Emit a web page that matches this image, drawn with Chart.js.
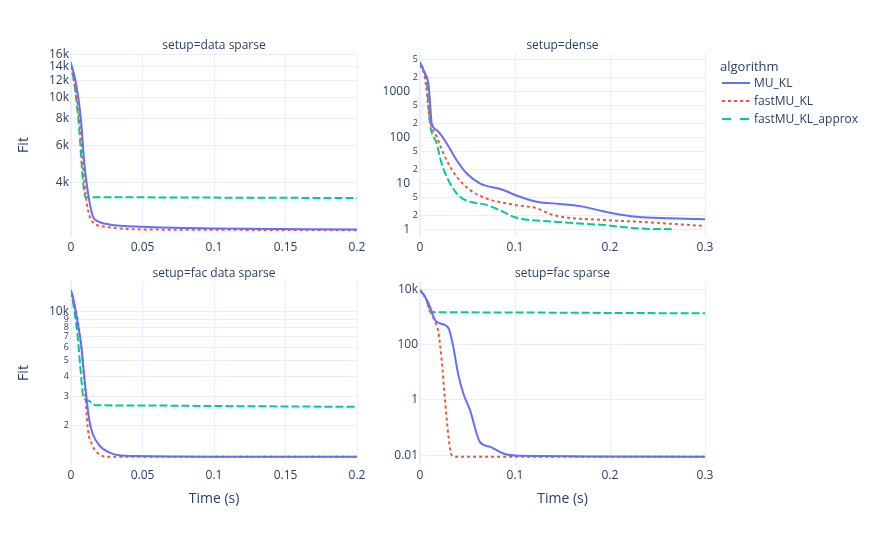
<!DOCTYPE html>
<html>
<head>
<meta charset="utf-8">
<script src="https://cdn.jsdelivr.net/npm/chart.js@4.4.0/dist/chart.umd.min.js"></script>
<style>
    body {
        margin: 0;
        width: 872px;
        height: 538px;
        position: relative;
        overflow: hidden;
        background: #fff;
        font-family: 'Open Sans', sans-serif;
        color: #2a3f5f;
    }
    canvas { position: absolute; }
    .leg-title { position: absolute; left: 720px; top: 56px; font-size: 13px; line-height: 20px; }
    .leg-row { position: absolute; left: 720px; height: 18px; font-size: 12px; line-height: 18px; white-space: nowrap; }
    .leg-row svg { position: absolute; left: 2px; top: 0; }
    .leg-row span { position: absolute; left: 34px; top: 0; }
</style>
</head>
<body>

<canvas id="c1" width="380" height="230" style="left:0px;top:30px"></canvas>
<canvas id="c2" width="345" height="230" style="left:383px;top:30px"></canvas>
<canvas id="c3" width="380" height="257" style="left:0px;top:258px"></canvas>
<canvas id="c4" width="345" height="257" style="left:383px;top:258px"></canvas>

<div class="leg-title">algorithm</div>
<div class="leg-row" style="top:74px"><svg width="30" height="18"><line x1="0" y1="9" x2="28" y2="9" stroke="#636efa" stroke-width="2"/></svg><span>MU_KL</span></div>
<div class="leg-row" style="top:92px"><svg width="30" height="18"><line x1="0" y1="9" x2="28" y2="9" stroke="#EF553B" stroke-width="2" stroke-dasharray="3,3"/></svg><span>fastMU_KL</span></div>
<div class="leg-row" style="top:110px"><svg width="30" height="18"><line x1="0" y1="9" x2="28" y2="9" stroke="#00cc96" stroke-width="2" stroke-dasharray="9,9"/></svg><span>fastMU_KL_approx</span></div>

<script>
// ---- data: setup=data sparse ----
const tDataSparseMU = [0, 0.0007, 0.0047, 0.007, 0.0093, 0.0116, 0.015, 0.0198, 0.0267, 0.05, 0.1, 0.2];
const fDataSparseMU = [14200, 13960, 10470, 7870, 4950, 3700, 2830, 2630, 2560, 2495, 2450, 2420];
const tDataSparseFast = [0, 0.003, 0.0058, 0.0093, 0.011, 0.015, 0.0244, 0.043, 0.1, 0.2];
const fDataSparseFast = [14000, 11200, 8150, 4120, 3220, 2630, 2495, 2430, 2415, 2405];
const tDataSparseApprox = [0, 0.0035, 0.0058, 0.0081, 0.01, 0.012, 0.05, 0.1, 0.2];
const fDataSparseApprox = [14700, 10100, 7060, 4280, 3440, 3430, 3425, 3415, 3400];

// ---- data: setup=dense ----
const tDenseMU = [0, 0.0053, 0.0088, 0.0105, 0.0123, 0.0175, 0.028, 0.0386, 0.049, 0.063, 0.0877, 0.1, 0.123, 0.147, 0.168, 0.2, 0.228, 0.263, 0.3];
const fDenseMU = [4140, 2500, 1510, 600, 204, 146, 75, 32, 16.6, 10, 7.2, 5.6, 4.0, 3.56, 3.2, 2.3, 1.88, 1.74, 1.65];
const tDenseFast = [0, 0.0053, 0.0105, 0.0175, 0.028, 0.0386, 0.0526, 0.07, 0.1, 0.123, 0.14, 0.193, 0.228, 0.3];
const fDenseFast = [3800, 1950, 240, 104, 32, 14, 7.2, 4.7, 3.4, 2.87, 2.05, 1.6, 1.47, 1.18];
const tDenseApprox = [0, 0.007, 0.0105, 0.0175, 0.0228, 0.0316, 0.042, 0.0526, 0.07, 0.0877, 0.1, 0.14, 0.193, 0.228, 0.267];
const fDenseApprox = [4480, 1510, 204, 75, 27, 10, 5.1, 4.0, 3.4, 2.4, 1.83, 1.47, 1.24, 1.05, 1.0];

// ---- data: setup=fac data sparse ----
const tFacDataMU = [0, 0.0007, 0.0047, 0.007, 0.0093, 0.011, 0.0128, 0.015, 0.0198, 0.0267, 0.038, 0.1, 0.2];
const fFacDataMU = [13200, 13000, 8480, 6380, 3980, 2850, 2140, 1780, 1500, 1355, 1290, 1275, 1273];
const tFacDataFast = [0, 0.0047, 0.0081, 0.01, 0.0116, 0.015, 0.0198, 0.0267, 0.1, 0.2];
const fFacDataFast = [13000, 8900, 5030, 3130, 1950, 1500, 1320, 1275, 1273, 1272];
const tFacDataApprox = [0, 0.0023, 0.0047, 0.0065, 0.0086, 0.0116, 0.0174, 0.05, 0.1, 0.2];
const fFacDataApprox = [13700, 10200, 7010, 4580, 2990, 2850, 2650, 2640, 2620, 2590];

// ---- data: setup=fac sparse ----
const tFacSparseMU = [0, 0.0053, 0.0105, 0.0158, 0.021, 0.03, 0.035, 0.04, 0.0456, 0.0526, 0.063, 0.074, 0.0877, 0.105, 0.3];
const fFacSparseMU = [9400, 5400, 2340, 774, 590, 390, 84, 9.1, 1.7, 0.43, 0.03, 0.02, 0.0115, 0.0095, 0.0088];
const tFacSparseFast = [0, 0.007, 0.0105, 0.0158, 0.0193, 0.0228, 0.0263, 0.03, 0.0333, 0.0386, 0.3];
const fFacSparseFast = [9400, 4100, 1780, 670, 294, 27.6, 1, 0.047, 0.01, 0.0087, 0.0087];
const tFacSparseApprox = [0, 0.007, 0.0105, 0.0175, 0.1, 0.2, 0.3];
const fFacSparseApprox = [9400, 4100, 1540, 1480, 1450, 1400, 1350];

// ---- ticks ----
const xTicksLeft = [0, 0.05, 0.1, 0.15, 0.2];
const xLabelsLeft = ["0", "0.05", "0.1", "0.15", "0.2"];
const xTicksRight = [0, 0.1, 0.2, 0.3];
const xLabelsRight = ["0", "0.1", "0.2", "0.3"];
const yTicksDataSparse = [4000, 6000, 8000, 10000, 12000, 14000, 16000];
const yLabelsDataSparse = ["4k", "6k", "8k", "10k", "12k", "14k", "16k"];
const yTicksDense = [1, 2, 5, 10, 20, 50, 100, 200, 500, 1000, 2000, 5000];
const yLabelsDense = ["1", "2", "5", "10", "2", "5", "100", "2", "5", "1000", "2", "5"];
const yTicksFacData = [2000, 3000, 4000, 5000, 6000, 7000, 8000, 9000, 10000];
const yLabelsFacData = ["2", "3", "4", "5", "6", "7", "8", "9", "10k"];
const yTicksFacSparse = [0.01, 1, 100, 10000];
const yLabelsFacSparse = ["0.01", "1", "100", "10k"];

const FONT_COLOR = '#2a3f5f';
const GRID = '#EBF0F8';
Chart.defaults.font.family = "'Open Sans', sans-serif";
Chart.defaults.color = FONT_COLOR;

function pts(t, f) {
    return t.map((x, i) => ({x: x, y: f[i]}));
}

function series(tMU, fMU, tFast, fFast, tApprox, fApprox) {
    const base = {pointRadius: 0, borderWidth: 2, fill: false, cubicInterpolationMode: 'monotone'};
    return [
        Object.assign({label: 'MU_KL', data: pts(tMU, fMU), borderColor: '#636efa'}, base),
        Object.assign({label: 'fastMU_KL', data: pts(tFast, fFast), borderColor: '#EF553B', borderDash: [3, 3]}, base),
        Object.assign({label: 'fastMU_KL_approx', data: pts(tApprox, fApprox), borderColor: '#00cc96', borderDash: [8, 3]}, base)
    ];
}

function isMinor(lbl) { return /^[2-9]$/.test(lbl); }

function makePanel(id, p) {
    const ctx = document.getElementById(id).getContext('2d');
    return new Chart(ctx, {
        type: 'line',
        data: {datasets: p.datasets},
        options: {
            responsive: false,
            animation: false,
            layout: {padding: {left: 0, right: 23, top: 0, bottom: 0}},
            plugins: {
                legend: {display: false},
                tooltip: {enabled: false},
                title: {
                    display: true, text: p.title, fullSize: false,
                    font: {size: 12, weight: 'normal'}, color: FONT_COLOR,
                    padding: {top: 8.6, bottom: 0}
                }
            },
            scales: {
                x: {
                    type: 'linear', min: 0, max: p.xMax,
                    afterBuildTicks: ax => { ax.ticks = p.xTicks.map(v => ({value: v})); },
                    afterFit: s => { s.height = p.xHeight; },
                    ticks: {
                        autoSkip: false, maxRotation: 0, padding: 3,
                        font: {size: 12}, color: FONT_COLOR,
                        callback: (v, i) => p.xLabels[i]
                    },
                    grid: {
                        color: GRID, drawTicks: false,
                        lineWidth: c => (c.tick && c.tick.value === 0) ? 2 : 1
                    },
                    border: {display: false},
                    title: {
                        display: p.xTitle, text: 'Time (s)', font: {size: 14},
                        color: FONT_COLOR, padding: {top: 0, bottom: 7.6}
                    }
                },
                y: {
                    type: 'logarithmic', min: p.yMin, max: p.yMax, bounds: 'data',
                    afterBuildTicks: ax => { ax.ticks = p.yTicks.map(v => ({value: v})); },
                    afterFit: s => { s.width = p.yWidth; },
                    ticks: {
                        autoSkip: false, padding: 2, color: FONT_COLOR,
                        font: c => ({size: isMinor(p.yLabels[c.index]) ? 9 : 12}),
                        callback: (v, i) => {
                            const l = p.yLabels[i];
                            return (p.majorPad && !isMinor(l)) ? l + '\u2002\u2009' : l;
                        }
                    },
                    grid: {color: GRID, drawTicks: false, lineWidth: 1},
                    border: {display: false},
                    title: {
                        display: p.yTitle, text: 'Fit', font: {size: 14},
                        color: FONT_COLOR, padding: {top: 15.6, bottom: 0}
                    }
                }
            }
        }
    });
}

makePanel('c1', {
    title: 'setup=data sparse',
    datasets: series(tDataSparseMU, fDataSparseMU, tDataSparseFast, fDataSparseFast, tDataSparseApprox, fDataSparseApprox),
    xMax: 0.2, xTicks: xTicksLeft, xLabels: xLabelsLeft, xHeight: 23, xTitle: false,
    yMin: 2235, yMax: 16200, yTicks: yTicksDataSparse, yLabels: yLabelsDataSparse, yWidth: 71, yTitle: true
});

makePanel('c2', {
    title: 'setup=dense',
    datasets: series(tDenseMU, fDenseMU, tDenseFast, fDenseFast, tDenseApprox, fDenseApprox),
    xMax: 0.3, xTicks: xTicksRight, xLabels: xLabelsRight, xHeight: 23, xTitle: false,
    yMin: 0.68, yMax: 6930, yTicks: yTicksDense, yLabels: yLabelsDense, yWidth: 37, yTitle: false,
    majorPad: true
});

makePanel('c3', {
    title: 'setup=fac data sparse',
    datasets: series(tFacDataMU, fFacDataMU, tFacDataFast, fFacDataFast, tFacDataApprox, fFacDataApprox),
    xMax: 0.2, xTicks: xTicksLeft, xLabels: xLabelsLeft, xHeight: 50, xTitle: true,
    yMin: 1133, yMax: 15500, yTicks: yTicksFacData, yLabels: yLabelsFacData, yWidth: 71, yTitle: true
});

makePanel('c4', {
    title: 'setup=fac sparse',
    datasets: series(tFacSparseMU, fFacSparseMU, tFacSparseFast, fFacSparseFast, tFacSparseApprox, fFacSparseApprox),
    xMax: 0.3, xTicks: xTicksRight, xLabels: xLabelsRight, xHeight: 50, xTitle: true,
    yMin: 0.0044, yMax: 20000, yTicks: yTicksFacSparse, yLabels: yLabelsFacSparse, yWidth: 37, yTitle: false
});
</script>
</body>
</html>
